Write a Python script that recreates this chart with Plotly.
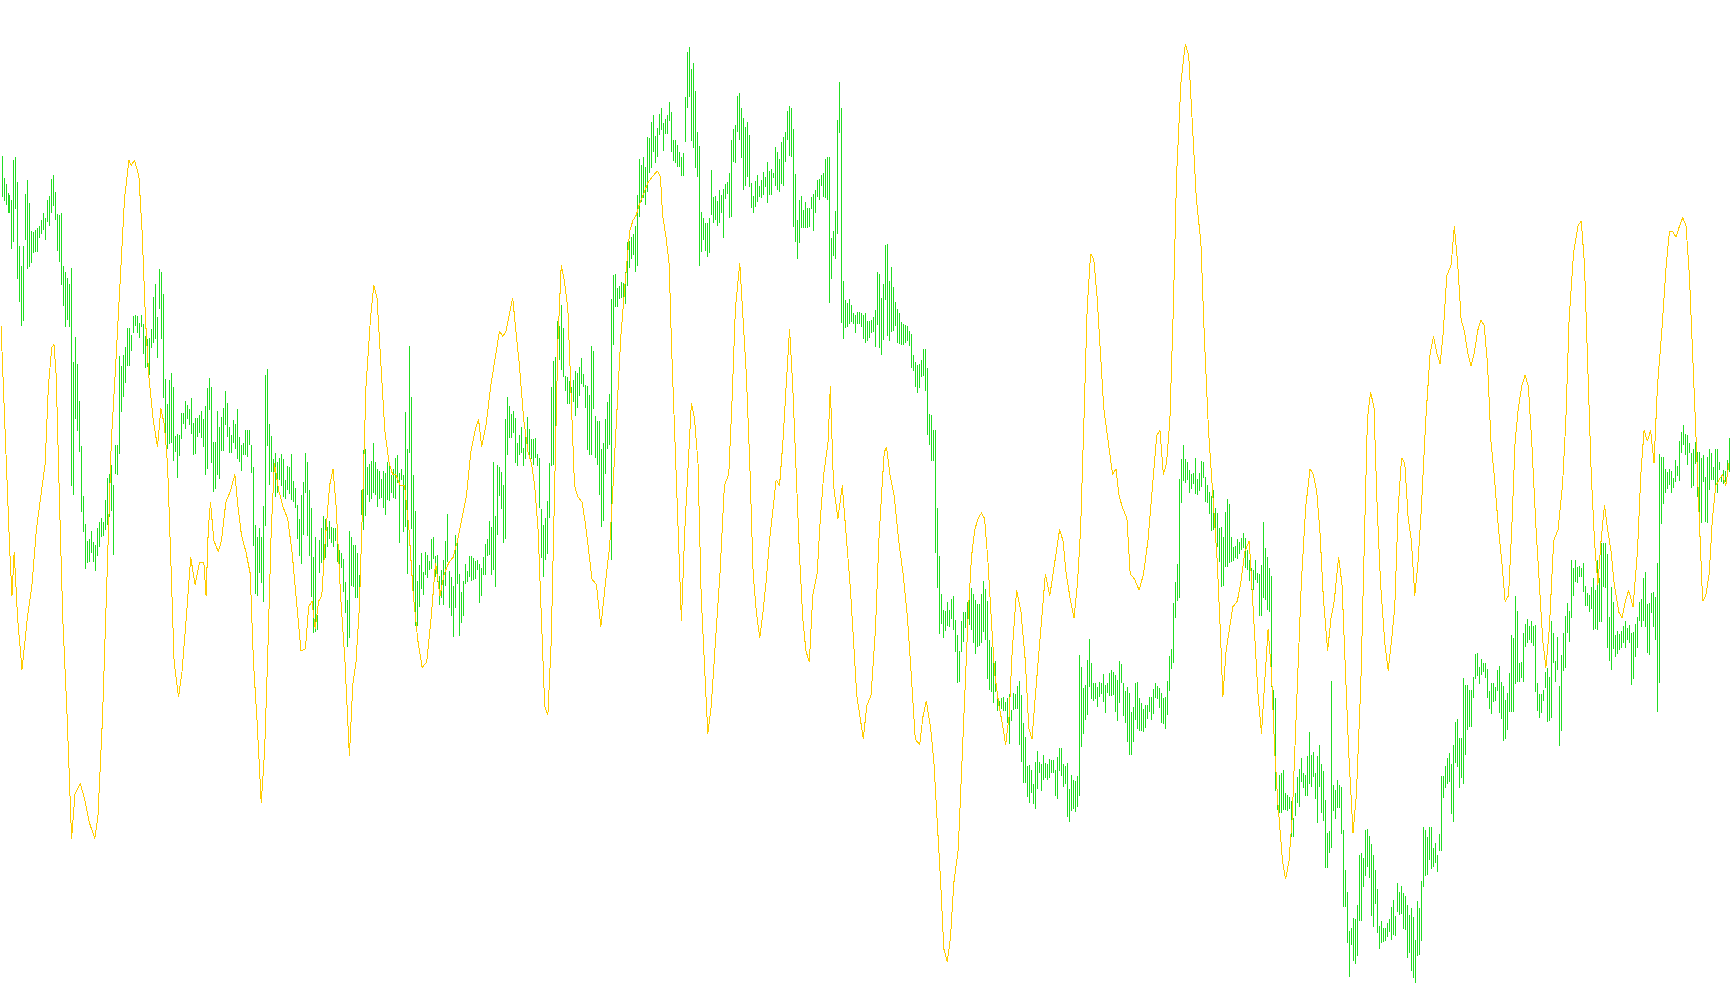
import plotly.graph_objects as go

# Bar highs / lows (price units), one entry per bar, left to right
bar_high = [
    844,822,816,807,805,800,840,843,818,754,734,754,806,820,797,769,768,770,772,774,
    780,787,782,800,804,821,825,808,786,785,787,734,728,722,716,732,638,663,636,599,
    554,504,476,459,461,469,458,455,472,478,482,478,500,522,526,535,515,555,555,644,
    634,645,653,672,672,665,684,685,684,677,685,676,664,661,662,671,703,716,683,731,
    728,706,621,596,620,627,613,564,566,565,587,587,599,595,591,602,577,582,582,585,
    589,581,594,612,622,613,558,558,
    589,573,583,592,609,597,573,565,580,576,591,563,555,557,570,570,570,555,533,475,
    463,472,463,494,625,631,576,564,541,547,538,542,546,541,520,534,533,546,519,512,
    495,481,505,518,547,538,510,492,443,463,385,460,472,484,481,473,479,473,472,472,
    463,450,447,441,418,400,469,463,455,455,447,425,510,550,551,533,536,539,557,538,
    531,529,521,529,527,538,538,525,531,542,545,527,531,525,588,551,654,603,525,489,
    419,435,447,428,448,445,439,461,
    463,444,445,424,430,440,459,486,429,423,414,465,461,426,408,419,436,429,444,444,
    442,439,440,436,432,443,456,461,479,473,538,484,535,533,528,515,581,603,594,586,
    589,582,557,565,573,552,563,583,571,561,561,562,546,542,491,475,482,499,537,613,
    639,643,679,674,695,672,624,623,619,613,620,629,627,633,642,626,615,614,605,654,
    649,584,579,579,551,557,581,598,606,701,725,726,712,714,718,717,728,758,759,763,
    766,774,805,841,835,843,833,863,
    862,878,885,864,872,886,892,877,881,885,898,888,860,860,855,848,843,847,903,948,
    953,931,937,909,868,854,788,782,777,777,782,830,803,804,799,810,805,811,816,818,
    827,860,871,875,904,907,892,882,873,878,865,817,804,819,825,814,820,828,823,838,
    829,831,827,853,848,841,858,863,868,889,894,892,871,826,780,800,804,790,798,792,
    792,803,806,810,820,821,825,827,841,843,843,762,769,789,880,918,892,719,700,697,
    701,695,687,685,688,688,687,685,
    687,679,679,680,683,690,728,726,702,716,755,756,719,733,713,698,691,687,678,676,
    675,674,669,666,645,638,635,636,640,651,651,632,586,585,570,570,492,444,406,390,
    389,398,390,401,404,380,365,349,379,388,388,398,401,412,406,400,396,396,406,419,
    411,399,360,353,342,339,303,299,302,303,298,302,306,290,307,306,314,319,305,277,
    263,234,235,230,216,238,249,238,236,245,237,236,241,240,240,230,243,252,252,236,
    234,237,211,225,220,219,224,345,
    333,312,315,340,361,337,317,317,313,318,317,326,315,317,327,330,328,325,320,339,
    336,317,309,313,307,288,293,317,318,302,297,291,295,295,303,303,311,317,314,312,
    307,302,303,319,344,351,397,418,436,521,541,555,541,538,530,526,527,542,521,527,
    539,538,523,515,508,504,510,492,487,472,473,463,488,501,496,463,453,454,461,458,
    462,467,462,450,440,432,430,440,427,426,435,478,452,443,432,424,310,302,202,225,
    227,230,207,205,203,199,182,207,
    223,231,242,227,225,244,268,245,248,227,244,255,236,229,200,167,169,319,215,210,
    220,215,213,170,130,108,69,72,82,81,95,145,147,142,170,171,164,156,145,130,
    111,74,79,72,72,77,81,93,100,84,117,108,114,107,104,95,85,92,83,60,
    99,92,119,173,170,163,173,173,152,157,145,166,224,224,234,242,247,236,255,278,
    281,262,262,322,315,315,310,310,323,346,347,333,341,337,337,331,309,317,317,313,
    330,334,318,314,300,307,327,365,
    362,404,389,337,338,367,376,381,374,379,374,375,317,306,306,310,328,332,323,379,
    367,339,363,314,345,367,384,397,389,440,432,440,433,434,432,437,414,407,405,413,
    422,410,440,422,457,457,457,446,383,413,398,365,369,366,369,374,379,372,375,367,
    368,376,383,398,401,422,428,396,397,407,408,403,437,546,543,543,531,528,531,529,
    522,540,534,559,568,575,566,565,557,547,551,558,548,548,542,545,523,543,551,547,
    533,551,551,538,523,530,529,540,562,
]

bar_low = [
    803,799,795,787,787,751,758,791,721,698,674,679,760,731,733,737,747,748,748,762,
    766,770,760,778,774,787,794,780,749,738,715,694,673,680,673,514,505,581,569,548,
    488,468,431,437,438,447,438,429,444,453,463,464,470,475,483,489,445,526,525,546,
    588,603,617,634,634,649,667,674,667,662,673,646,632,633,625,652,657,661,642,691,
    661,602,567,551,556,557,539,548,522,544,561,576,571,581,575,566,545,546,563,567,
    562,553,525,531,590,537,508,511,
    525,521,549,549,575,563,547,547,557,551,541,538,529,545,545,543,555,527,454,406,
    404,427,417,398,474,554,515,528,514,503,507,520,514,503,501,510,506,500,498,492,
    461,444,436,465,507,464,444,403,367,368,370,427,437,427,442,453,461,457,453,459,
    438,423,432,408,387,353,362,414,413,402,402,397,485,470,484,505,498,501,507,505,
    493,501,502,492,485,500,499,507,502,501,517,457,520,468,473,426,547,471,398,374,
    374,393,411,405,425,422,430,431,
    441,423,418,395,402,395,414,438,392,384,363,392,416,364,377,384,416,418,423,419,
    420,421,430,397,404,425,425,444,445,425,430,413,465,504,491,457,461,545,562,562,
    567,537,534,545,547,534,541,550,541,541,535,542,534,492,442,423,440,446,482,534,
    535,560,629,640,630,623,609,596,596,598,598,584,592,604,616,613,592,550,545,545,
    591,542,535,505,473,479,526,551,555,440,655,693,693,701,702,697,696,714,732,741,
    745,728,734,783,798,802,795,808,
    827,832,848,837,843,865,870,849,866,866,879,848,839,837,833,833,824,824,858,892,
    903,859,852,832,823,734,748,760,749,743,747,785,777,780,774,777,787,762,801,806,
    782,783,838,837,868,860,842,810,814,823,813,792,787,793,798,803,802,805,813,797,
    805,805,822,814,810,808,816,814,838,860,844,843,773,758,741,757,772,772,772,772,
    773,791,769,787,803,800,814,803,802,800,697,721,744,741,766,867,677,661,672,673,
    676,678,676,667,676,676,673,661,
    657,659,662,667,668,653,675,652,645,660,700,664,659,668,669,674,657,656,655,655,
    657,659,654,632,629,613,607,612,623,624,609,565,555,539,539,447,412,366,376,362,
    369,374,373,381,370,348,317,318,348,358,372,360,375,370,357,346,353,354,357,368,
    360,321,310,308,297,308,289,291,291,289,289,277,256,279,290,291,291,255,238,217,
    217,203,197,207,196,191,211,227,209,220,222,220,222,227,227,204,201,229,224,213,
    216,183,178,189,191,188,193,204,
    253,266,280,285,313,301,299,301,293,303,306,298,287,307,304,304,305,288,279,297,
    317,284,277,258,245,245,258,280,271,269,269,268,272,281,288,280,286,302,301,292,
    277,276,271,285,309,331,337,382,399,402,497,519,517,520,507,511,516,506,505,509,
    513,522,498,497,486,469,470,460,453,438,413,414,433,433,437,438,439,442,441,446,
    450,452,432,430,419,410,410,420,417,384,384,402,400,390,388,313,275,209,190,187,
    187,190,190,189,191,163,163,184,
    197,193,218,212,204,204,216,213,223,201,177,213,187,179,132,132,147,152,189,181,
    192,192,166,93,93,57,23,55,39,36,44,79,79,113,124,133,122,84,73,96,
    67,51,57,58,59,63,68,60,65,64,88,85,86,71,70,42,47,29,22,17,
    44,45,59,113,124,125,140,131,133,137,128,149,149,202,212,216,218,186,178,237,
    233,212,222,216,245,270,273,273,302,321,324,316,325,328,322,302,291,286,298,299,
    309,287,281,259,261,270,288,288,
    288,316,318,318,322,318,353,357,360,357,354,308,289,282,287,299,312,278,279,282,
    337,318,330,254,269,329,332,367,358,382,404,418,417,423,423,408,394,394,388,391,
    370,371,370,378,378,413,412,352,339,330,351,343,346,350,352,357,352,360,357,315,
    321,343,352,379,373,379,373,347,345,387,373,360,288,317,476,496,507,511,515,507,
    512,518,524,519,547,555,545,535,547,512,514,536,503,475,477,518,478,477,510,520,
    520,512,507,530,518,516,518,523,528,
]

# Oscillator line: bar position and value (own scale)
signal_t = [
    -0.5,1.2,2.3,3.9,5.0,6.1,7.8,10.0,12.7,15.0,17.2,19.4,21.6,23.2,24.9,26.0,27.1,28.7,30.4,32.6,
    34.8,36.5,39.2,41.4,43.6,46.4,48.0,50.3,52.5,54.7,56.9,59.1,61.3,63.5,64.6,66.3,68.5,70.1,71.8,73.4,
    75.6,77.8,79.5,81.2,82.8,84.5,86.1,88.3,90.0,92.2,94.4,96.6,98.8,101.0,102.1,103.2,104.3,106.0,108.2,109.8,
    112.0,114.3,116.5,118.1,119.8,122.0,124.2,125.8,127.5,129.7,131.4,133.0,134.7,136.3,138.5,140.7,142.9,145.1,147.4,149.6,
    151.8,153.4,155.1,156.7,158.4,160.0,161.7,163.9,165.6,167.2,169.4,171.6,173.8,175.5,177.1,178.8,180.5,182.1,184.3,186.0,
    187.6,189.8,191.5,193.7,195.4,197.0,199.2,201.4,203.6,205.8,208.0,210.2,212.5,214.7,216.9,219.1,221.3,223.5,225.7,227.9,
    230.1,232.3,234.5,236.7,238.4,240.0,242.2,244.5,246.7,248.9,250.5,252.2,253.8,255.5,257.1,258.8,261.0,263.2,264.9,266.5,
    268.2,269.8,271.5,273.1,274.8,276.5,278.1,279.8,281.4,283.1,284.7,286.4,288.0,290.2,291.9,293.6,295.2,297.4,299.6,301.8,
    304.0,305.7,307.3,309.6,311.8,314.0,315.6,317.3,318.9,321.1,323.3,325.5,327.8,329.4,330.5,332.2,333.8,334.9,336.6,338.2,
    339.9,341.6,343.2,344.9,346.5,348.2,349.8,351.5,353.1,354.8,357.0,359.2,361.4,363.6,365.3,366.9,369.1,370.8,372.4,374.1,
    375.8,377.4,379.1,380.7,382.4,384.0,385.7,387.3,389.0,390.7,392.3,394.0,395.6,397.3,398.9,400.6,402.2,403.9,405.6,407.8,
    409.4,411.1,413.3,414.4,416.0,418.2,420.4,422.1,424.3,426.0,427.6,429.3,430.9,432.6,434.8,437.0,438.7,440.3,441.4,442.5,
    444.2,446.4,448.6,450.8,453.0,455.2,456.9,459.1,460.7,462.4,464.6,466.2,467.9,469.6,471.2,472.9,474.5,476.2,478.4,480.0,
    481.7,483.3,485.0,486.7,488.3,490.0,491.6,493.3,494.9,496.6,498.8,500.4,502.1,503.8,505.4,507.6,509.8,512.0,513.7,515.3,
    517.0,518.7,520.3,522.0,524.2,525.8,527.5,529.1,530.8,532.4,534.6,536.3,538.0,539.6,541.3,542.9,544.6,546.2,547.9,549.5,
    551.2,553.4,555.6,557.3,558.9,560.6,562.8,564.4,566.6,568.9,571.1,573.3,575.5,577.7,579.3,581.0,582.6,584.3,586.0,587.6,
    589.8,592.0,593.7,595.3,597.5,599.8,601.4,603.6,605.8,608.0,609.7,610.8,612.4,614.1,615.8,618.0,619.6,621.8,624.0,626.2,
    628.4,630.1,631.8,633.4,635.1,636.7,638.4,640.6,642.2,643.9,645.5,647.7,650.0,652.2,654.4,656.0,657.7,659.3,661.0,663.2,
    664.9,666.5,668.7,670.4,672.0,673.7,675.9,677.6,679.8,681.4,683.1,684.7,686.4,688.0,689.7,691.9,693.5,695.2,696.8,698.5,
    700.2,701.8,703.5,705.1,706.8,708.4,710.1,712.3,714.5,716.2,717.8,719.5,721.1,722.8,725.0,726.6,728.3,730.0,731.6,733.3,
    734.9,736.6,738.2,739.9,741.5,743.2,744.9,746.5,748.7,750.4,752.0,753.7,755.3,757.0,758.6,760.3,762.0,763.6,765.3,767.5,
    769.1,770.8,772.4,774.1,776.3,778.5,780.7,782.4,784.0,786.2,788.4,790.1,791.7,793.4,795.1,796.7,798.4,800.0,801.7,803.3,
    805.0,806.6,808.9,810.5,812.2,813.8,816.0,818.2,819.9,821.5,823.2,824.8,826.5,828.2,830.4,832.6,834.2,835.9,837.5,839.2,
    840.9,842.5,844.2,845.8,847.5,849.1,850.8,852.4,854.1,855.7,857.4,859.0,860.7,862.4,864.0,
]

signal_v = [
    705,620,580,500,460,500,440,393,440,470,520,550,580,650,685,688,660,550,440,350,
    240,280,290,275,255,240,260,350,470,600,670,750,820,855,850,855,840,790,710,660,
    620,595,630,615,580,490,400,368,390,440,495,470,490,490,460,520,545,510,500,510,
    545,555,570,540,515,500,480,400,350,272,320,410,520,580,555,540,530,500,455,410,
    412,450,455,430,455,460,510,560,575,540,460,400,315,380,400,450,550,650,710,742,
    730,660,610,580,570,570,560,560,520,460,420,395,400,440,490,460,480,490,495,510,
    530,550,590,610,620,595,615,650,675,700,695,700,715,730,700,670,620,590,580,560,
    520,440,360,352,420,560,690,760,745,720,650,560,550,545,525,500,475,470,432,470,
    505,560,620,695,745,790,800,805,815,825,835,840,845,840,805,785,760,690,600,520,
    437,520,580,635,620,580,460,400,335,360,420,480,560,570,640,720,762,710,660,580,
    480,445,422,445,475,510,540,565,560,600,650,702,650,570,500,440,410,400,460,480,
    530,570,600,650,560,530,560,520,470,420,370,350,330,360,370,430,510,560,590,595,
    570,550,510,480,440,380,330,325,350,365,340,310,260,200,140,128,150,200,230,300,
    380,440,495,520,530,535,530,490,440,390,360,345,325,350,410,465,445,400,340,330,
    370,410,440,480,460,480,500,520,510,480,455,440,470,520,620,720,770,765,730,680,
    630,600,570,575,550,540,530,480,475,465,480,510,555,605,610,570,580,620,720,840,
    925,960,950,900,820,780,700,610,550,490,420,368,410,430,450,455,470,500,510,440,
    370,335,390,430,390,320,270,220,203,220,260,360,470,540,575,570,555,520,460,410,
    440,455,495,470,400,320,245,280,380,500,620,645,630,540,470,415,392,420,450,540,
    585,580,530,510,460,490,540,620,680,695,680,670,700,750,760,795,760,710,700,680,
    668,680,700,710,705,670,600,570,520,490,455,460,520,600,630,650,660,650,600,520,
    470,420,395,430,510,520,560,620,710,770,795,800,760,670,570,510,470,510,542,520,
    500,470,445,440,455,465,450,500,570,610,600,610,580,650,700,760,790,790,785,795,
    803,795,750,680,600,530,455,460,480,530,560,565,570,560,580,
]

xs, ys = [], []
for i, (h, l) in enumerate(zip(bar_high, bar_low)):
    xs += [i, i, None]
    ys += [l, h, None]

n = len(bar_high)

fig = go.Figure()
fig.add_trace(go.Scatter(
    x=xs, y=ys, mode="lines",
    line=dict(color="#22DD22", width=1),
    hoverinfo="skip", showlegend=False, connectgaps=False,
))
fig.add_trace(go.Scatter(
    x=signal_t, y=signal_v, mode="lines", yaxis="y2",
    line=dict(color="#FFCC00", width=1),
    hoverinfo="skip", showlegend=False,
))
fig.update_layout(
    width=1730, height=1005,
    margin=dict(l=0, r=0, t=0, b=0),
    paper_bgcolor="white", plot_bgcolor="white",
    xaxis=dict(visible=False, range=[-1.0, n - 0.5], fixedrange=True),
    yaxis=dict(visible=False, range=[-5, 1000], fixedrange=True),
    yaxis2=dict(visible=False, range=[89.1, 1000], overlaying="y", fixedrange=True),
    showlegend=False,
)
fig.write_html(
    "out.html",
    config={"displayModeBar": False, "staticPlot": True},
    post_script=(
        "document.body.style.margin='0';document.body.style.overflow='hidden';"
        "document.querySelectorAll('.scatterlayer path.js-line').forEach(function(p){"
        "p.style.shapeRendering='crispEdges';});"
    ),
)
